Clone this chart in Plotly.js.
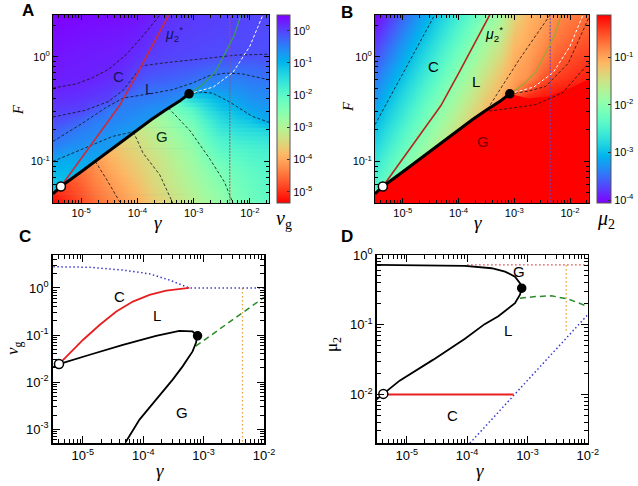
<!DOCTYPE html>
<html><head><meta charset="utf-8">
<script src="https://cdn.plot.ly/plotly-3.0.1.min.js"></script>
<style>html,body{margin:0;padding:0;background:#fff}#chart{width:638px;height:486px}</style>
</head><body><div id="chart"></div>
<script>
// ================= DATA =================
// heatmap grid (panels A, B)
const gammaGrid = [3.16e-6, 5.62e-6, 1.0e-5, 1.78e-5, 3.16e-5, 5.62e-5, 1.0e-4, 1.78e-4, 3.16e-4, 5.62e-4, 1.0e-3, 1.78e-3, 3.16e-3, 5.62e-3, 1.0e-2, 1.78e-2, 3.16e-2];
const fGrid = [0.0398, 0.0501, 0.0631, 0.0794, 0.1, 0.126, 0.158, 0.2, 0.251, 0.316, 0.398, 0.501, 0.631, 0.794, 1.0, 1.26, 1.58, 2.0, 2.51];
// log10(nu_g) above the G boundary (C / L phases), rows = fGrid, cols = gammaGrid
const logNuUpper = [
 [-1.2,-1.15,-1.05,-0.95,-0.88,-0.85,-0.82,-0.8,-0.78,-0.8,-3.1,-2.85,-2.65,-2.42,-2.25,-2.12,-2.05],
 [-1.18,-1.12,-1.02,-0.93,-0.86,-0.83,-0.8,-0.79,-0.77,-0.79,-3.0,-2.76,-2.56,-2.36,-2.2,-2.08,-2.02],
 [-1.15,-1.08,-0.99,-0.91,-0.84,-0.81,-0.79,-0.78,-0.76,-0.78,-2.9,-2.66,-2.47,-2.3,-2.15,-2.04,-1.98],
 [-1.05,-1.02,-0.95,-0.88,-0.82,-0.79,-0.77,-0.76,-0.75,-0.77,-2.78,-2.56,-2.35,-2.22,-2.08,-1.98,-1.92],
 [-0.85,-0.9,-0.85,-0.84,-0.8,-0.77,-0.76,-0.75,-0.74,-0.76,-2.64,-2.43,-2.2,-2.1,-1.98,-1.9,-1.84],
 [-0.6,-0.7,-0.7,-0.74,-0.78,-0.76,-0.74,-0.73,-0.72,-0.75,-2.5,-2.25,-2.0,-1.95,-1.86,-1.8,-1.75],
 [-0.38,-0.52,-0.58,-0.63,-0.7,-0.75,-0.72,-0.72,-0.71,-0.74,-2.4,-2.1,-1.85,-1.75,-1.68,-1.62,-1.55],
 [-0.21,-0.35,-0.47,-0.54,-0.6,-0.7,-0.72,-0.7,-0.7,-0.72,-2.25,-1.9,-1.6,-1.5,-1.42,-1.35,-1.25],
 [-0.04,-0.12,-0.27,-0.45,-0.51,-0.57,-0.66,-0.69,-0.68,-0.7,-2.05,-1.7,-1.4,-1.25,-1.12,-0.86,-0.8],
 [0.07,0.04,0.02,-0.15,-0.42,-0.49,-0.53,-0.63,-0.65,-0.68,-1.75,-1.4,-1.15,-1.0,-0.8,-0.73,-0.69],
 [0.16,0.14,0.11,0.06,0.02,-0.4,-0.42,-0.46,-0.52,-0.64,-1.25,-1.15,-0.95,-0.78,-0.66,-0.61,-0.58],
 [0.25,0.23,0.2,0.15,0.1,0.02,-0.27,-0.33,-0.36,-0.42,-0.62,-0.68,-0.64,-0.61,-0.54,-0.5,-0.47],
 [0.28,0.26,0.26,0.24,0.18,0.1,-0.09,-0.18,-0.21,-0.26,-0.32,-0.42,-0.47,-0.46,-0.41,-0.38,-0.37],
 [0.31,0.29,0.28,0.26,0.25,0.18,0.04,-0.05,-0.09,-0.13,-0.17,-0.24,-0.29,-0.3,-0.28,-0.26,-0.25],
 [0.35,0.32,0.3,0.28,0.27,0.25,0.13,0.03,0.0,-0.03,-0.05,-0.07,-0.08,-0.1,-0.11,-0.11,-0.11],
 [0.38,0.36,0.33,0.31,0.3,0.28,0.21,0.1,0.04,0.0,-0.02,-0.04,-0.05,-0.06,-0.08,-0.09,-0.09],
 [0.41,0.39,0.37,0.35,0.33,0.31,0.26,0.16,0.08,0.04,0.01,-0.01,-0.03,-0.04,-0.06,-0.07,-0.07],
 [0.45,0.43,0.4,0.38,0.37,0.35,0.31,0.22,0.12,0.07,0.04,0.02,0.0,-0.02,-0.04,-0.05,-0.06],
 [0.48,0.46,0.44,0.42,0.4,0.38,0.35,0.27,0.16,0.1,0.07,0.04,0.02,0.0,-0.02,-0.03,-0.04]
];
// log10(nu_g) in the G phase (below the boundary), rows = fLower, cols = gammaGrid
const fLower = [0.0398, 0.0501, 0.0631, 0.0794, 0.1, 0.126, 0.158, 0.2, 0.251, 0.316, 0.398, 0.501];
const logNuLower = [
 [-5.3,-5.05,-4.8,-4.55,-4.35,-4.15,-3.95,-3.7,-3.5,-3.3,-3.1,-2.85,-2.65,-2.42,-2.25,-2.12,-2.05],
 [-5.1,-4.9,-4.7,-4.45,-4.25,-4.05,-3.85,-3.6,-3.4,-3.2,-3.0,-2.76,-2.56,-2.36,-2.2,-2.08,-2.02],
 [-4.95,-4.8,-4.6,-4.35,-4.15,-3.95,-3.75,-3.5,-3.3,-3.1,-2.9,-2.66,-2.47,-2.3,-2.15,-2.04,-1.98],
 [-4.8,-4.7,-4.5,-4.28,-4.05,-3.85,-3.65,-3.45,-3.25,-3.05,-2.82,-2.56,-2.35,-2.22,-2.08,-1.98,-1.92],
 [-4.65,-4.55,-4.38,-4.18,-3.95,-3.75,-3.58,-3.4,-3.2,-2.98,-2.74,-2.43,-2.2,-2.1,-1.98,-1.9,-1.84],
 [-4.5,-4.4,-4.25,-4.05,-3.85,-3.65,-3.48,-3.3,-3.1,-2.88,-2.65,-2.3,-2.02,-1.95,-1.86,-1.8,-1.75],
 [-4.35,-4.25,-4.1,-3.92,-3.74,-3.56,-3.38,-3.2,-3.0,-2.75,-2.5,-2.12,-1.86,-1.75,-1.68,-1.62,-1.55],
 [-4.2,-4.1,-3.95,-3.78,-3.6,-3.44,-3.27,-3.1,-2.88,-2.62,-2.4,-1.95,-1.62,-1.5,-1.42,-1.35,-1.25],
 [-4.05,-3.95,-3.8,-3.64,-3.46,-3.3,-3.12,-2.95,-2.72,-2.45,-2.2,-1.75,-1.42,-1.25,-1.12,-0.86,-0.8],
 [-3.9,-3.8,-3.65,-3.5,-3.32,-3.16,-2.98,-2.78,-2.55,-2.2,-1.9,-1.45,-1.15,-1.0,-0.8,-0.73,-0.69],
 [-3.75,-3.65,-3.5,-3.35,-3.18,-3.0,-2.82,-2.62,-2.35,-1.85,-1.35,-1.15,-0.95,-0.78,-0.66,-0.61,-0.58],
 [-3.6,-3.5,-3.35,-3.2,-3.02,-2.86,-2.66,-2.45,-2.15,-1.5,-0.7,-0.68,-0.64,-0.61,-0.54,-0.5,-0.47]
];
// log10(mu_2), rows = fGrid, cols = gammaGrid
const logMu2 = [
 [-2.25,-2.0,-1.75,-1.5,-1.25,-1.08,-0.93,-0.78,-0.63,-0.48,-0.15,-0.12,-0.12,-0.12,-0.12,-0.12,-0.12],
 [-2.35,-2.1,-1.85,-1.6,-1.35,-1.14,-0.99,-0.84,-0.69,-0.54,-0.15,-0.12,-0.12,-0.12,-0.12,-0.12,-0.12],
 [-2.45,-2.2,-1.95,-1.7,-1.45,-1.2,-1.05,-0.9,-0.75,-0.6,-0.15,-0.12,-0.12,-0.12,-0.12,-0.12,-0.12],
 [-2.55,-2.3,-2.05,-1.8,-1.55,-1.3,-1.11,-0.96,-0.81,-0.66,-0.15,-0.12,-0.12,-0.12,-0.12,-0.12,-0.12],
 [-2.65,-2.4,-2.15,-1.9,-1.65,-1.4,-1.17,-1.02,-0.87,-0.72,-0.15,-0.12,-0.12,-0.12,-0.12,-0.12,-0.12],
 [-2.75,-2.5,-2.25,-2.0,-1.75,-1.5,-1.25,-1.08,-0.93,-0.78,-0.15,-0.12,-0.12,-0.12,-0.12,-0.12,-0.12],
 [-2.85,-2.6,-2.35,-2.1,-1.85,-1.6,-1.35,-1.14,-0.99,-0.84,-0.15,-0.12,-0.12,-0.12,-0.12,-0.12,-0.12],
 [-2.95,-2.7,-2.45,-2.2,-1.95,-1.7,-1.45,-1.2,-1.05,-0.9,-0.15,-0.12,-0.12,-0.12,-0.12,-0.12,-0.12],
 [-3.05,-2.8,-2.55,-2.3,-2.05,-1.8,-1.55,-1.3,-1.11,-0.96,-0.15,-0.12,-0.12,-0.12,-0.12,-0.12,-0.12],
 [-3.15,-2.9,-2.65,-2.4,-2.15,-1.9,-1.65,-1.4,-1.17,-1.02,-0.15,-0.15,-0.12,-0.12,-0.12,-0.12,-0.12],
 [-3.25,-3.0,-2.75,-2.5,-2.25,-2.0,-1.75,-1.5,-1.25,-1.08,-0.4,-0.25,-0.2,-0.18,-0.16,-0.14,-0.12],
 [-3.35,-3.1,-2.85,-2.6,-2.35,-2.1,-1.85,-1.6,-1.35,-1.14,-0.9,-0.55,-0.35,-0.28,-0.24,-0.2,-0.17],
 [-3.45,-3.2,-2.95,-2.7,-2.45,-2.2,-1.95,-1.7,-1.45,-1.2,-0.98,-0.85,-0.55,-0.42,-0.34,-0.28,-0.24],
 [-3.55,-3.3,-3.05,-2.8,-2.55,-2.3,-2.05,-1.8,-1.55,-1.3,-1.02,-0.92,-0.68,-0.52,-0.43,-0.36,-0.31],
 [-3.65,-3.4,-3.15,-2.9,-2.65,-2.4,-2.15,-1.9,-1.65,-1.4,-1.07,-0.96,-0.78,-0.6,-0.5,-0.43,-0.38],
 [-3.75,-3.5,-3.25,-3.0,-2.75,-2.5,-2.25,-2.0,-1.75,-1.5,-1.13,-1.0,-0.85,-0.68,-0.57,-0.5,-0.45],
 [-3.85,-3.6,-3.35,-3.1,-2.85,-2.6,-2.35,-2.1,-1.85,-1.6,-1.2,-1.04,-0.9,-0.75,-0.64,-0.57,-0.51],
 [-3.95,-3.7,-3.45,-3.2,-2.95,-2.7,-2.45,-2.2,-1.95,-1.7,-1.28,-1.08,-0.95,-0.8,-0.7,-0.63,-0.57],
 [-4.05,-3.8,-3.55,-3.3,-3.05,-2.8,-2.55,-2.3,-2.05,-1.8,-1.35,-1.12,-1.0,-0.85,-0.75,-0.68,-0.62]
];
// G boundary (thick black) in A and B
const bndGamma = [3.16e-6, 4.37e-6, 1.0e-5, 1.78e-5, 3.16e-5, 5.62e-5, 1.0e-4, 1.78e-4, 3.16e-4, 5.62e-4, 8.3e-4];
const bndF     = [0.049, 0.0575, 0.0794, 0.1, 0.126, 0.158, 0.2, 0.251, 0.309, 0.376, 0.442];
// saturated-red part of B continues right of the critical point
const gRightGamma = [1.78e-3, 3.98e-3, 1.0e-2, 2.51e-2];
const gRightF     = [0.398, 0.417, 0.501, 0.631];
// mu2* line
const muStarGamma = [4.37e-6, 1.0e-5, 2.24e-5, 4.79e-5, 1.0e-4, 1.91e-4, 3.63e-4];
const muStarF     = [0.0575, 0.107, 0.195, 0.339, 0.692, 1.318, 2.512];
// green and white curves from the critical point
const greenGamma = [8.32e-4, 1.41e-3, 2.40e-3, 3.80e-3, 5.25e-3, 6.92e-3];
const greenF     = [0.442, 0.537, 0.708, 1.122, 1.585, 2.50];
const whiteGamma = [8.32e-4, 2.24e-3, 5.01e-3, 1.0e-2, 1.70e-2];
const whiteF     = [0.442, 0.513, 0.708, 1.259, 2.50];
const vGamma = 4.4e-3;
const openPt = [4.37e-6, 0.0575];
const critPt = [8.3e-4, 0.442];
// contour lines of panel A
const cA1g = [3.16e-6, 8.32e-6, 1.62e-5, 3.09e-5, 6.31e-5, 1.26e-4, 2.51e-4];
const cA1f = [0.501, 0.550, 0.631, 0.759, 1.047, 1.585, 2.50];
const cA2g = [3.16e-6, 1.17e-5, 3.07e-5, 5.69e-5, 8.57e-5, 1.21e-4, 2.74e-4, 1.42e-3, 5.55e-3, 2.19e-2];
const cA2f = [0.265, 0.307, 0.373, 0.483, 0.646, 0.817, 0.867, 0.953, 1.033, 1.057];
const cA3g = [3.16e-6, 1.08e-5, 2.67e-5, 5.60e-5, 1.59e-4, 4.13e-4, 9.37e-4, 1.86e-3, 3.68e-3, 7.31e-3, 2.19e-2];
const cA3f = [0.155, 0.233, 0.323, 0.403, 0.440, 0.483, 0.558, 0.656, 0.697, 0.685, 0.601];
const cA4g = [3.16e-6, 7.08e-6, 1.62e-5, 3.63e-5, 8.91e-5];
const cA4f = [0.1, 0.120, 0.145, 0.173, 0.193];
const cA5g = [8.32e-4, 1.32e-3, 2.14e-3, 4.23e-3, 1.10e-2, 2.19e-2];
const cA5f = [0.442, 0.459, 0.449, 0.373, 0.269, 0.236];
const cG1g = [1.78e-5, 2.82e-5, 5.01e-5];
const cG1f = [0.1, 0.0676, 0.0398];
const cG2g = [8.51e-5, 1.26e-4, 2.51e-4, 4.27e-4];
const cG2f = [0.191, 0.120, 0.0741, 0.0398];
const cG3g = [3.55e-4, 8.71e-4, 1.95e-3, 3.55e-3, 5.01e-3];
const cG3f = [0.324, 0.195, 0.105, 0.0631, 0.0398];
// contour lines of panel B
const cB1g = [3.16e-6, 1.0e-5, 3.72e-5];
const cB1f = [0.224, 0.692, 2.50];
const cB2g = [3.31e-4, 1.20e-3, 4.37e-3];
const cB2f = [0.316, 0.923, 2.50];
const cB3g = [8.32e-4, 1.78e-3, 3.63e-3, 9.33e-3, 2.14e-2];
const cB3f = [0.442, 0.468, 0.519, 0.867, 2.32];
const cB4g = [3.55e-4, 6.31e-4, 1.26e-3, 2.40e-3, 7.24e-3, 2.19e-2];
const cB4f = [0.302, 0.313, 0.331, 0.348, 0.449, 0.871];
// panel C (nu_g vs gamma)
const cBlueG = [3.24e-6, 1.29e-5, 4.57e-5, 1.26e-4, 2.69e-4, 4.47e-4, 5.75e-4, 1.0e-2];
const cBlueV = [2.82, 2.75, 2.40, 2.0, 1.48, 1.15, 1.0, 1.0];
const cRedG = [4.02e-6, 1.01e-5, 1.91e-5, 3.58e-5, 6.73e-5, 1.27e-4, 2.39e-4, 5.78e-4];
const cRedV = [0.0242, 0.0794, 0.165, 0.315, 0.514, 0.713, 0.879, 1.0];
const cBlackG = [3.24e-6, 4.02e-6, 1.30e-5, 4.60e-5, 1.63e-4, 3.95e-4, 6.56e-4, 7.93e-4, 7.45e-4, 6.56e-4, 4.49e-4, 3.07e-4, 1.63e-4, 8.67e-5, 5.10e-5];
const cBlackV = [0.0209, 0.0242, 0.0381, 0.0621, 0.0964, 0.123, 0.119, 0.0964, 0.0675, 0.0449, 0.0216, 0.0113, 0.00425, 0.0016, 0.000528];
const cGreenG = [7.4e-4, 1.0e-2];
const cGreenV = [0.058, 0.63];
const cOrangeV = [1.0, 5.0e-4];
const cOpen = [4.02e-6, 0.0242];
const cCrit = [7.93e-4, 0.0964];
// panel D (mu_2 vs gamma)
const dBlackG = [3.16e-6, 9.2e-5, 2.55e-4, 4.25e-4, 6.22e-4, 7.52e-4, 8.04e-4, 7.52e-4, 6.22e-4, 3.29e-4, 1.95e-4, 9.2e-5, 2.75e-5, 7.59e-6, 4.07e-6, 3.16e-6];
const dBlackM = [0.72, 0.697, 0.646, 0.578, 0.49, 0.394, 0.334, 0.269, 0.204, 0.132, 0.102, 0.063, 0.0316, 0.0158, 0.0102, 0.0085];
const dRedG = [4.07e-6, 5.9e-4];
const dRedM = [0.01, 0.01];
const dRedDotG = [1.0e-4, 1.0e-2];
const dRedDotM = [0.72, 0.72];
const dGreenG = [7.52e-4, 1.26e-3, 2.51e-3, 4.79e-3, 1.0e-2];
const dGreenM = [0.24, 0.252, 0.26, 0.233, 0.183];
const dBlueG = [1.11e-4, 1.0e-2];
const dBlueM = [0.002, 0.139];
const dOrangeM = [0.72, 0.08];
const dOpen = [4.07e-6, 0.0102];
const dCrit = [8.04e-4, 0.334];
// tick labels
const gammaTicks = [1e-5, 1e-4, 1e-3, 1e-2];
const gammaTickText = ['10<sup>-5</sup>', '10<sup>-4</sup>', '10<sup>-3</sup>', '10<sup>-2</sup>'];
const fTicks = [0.1, 1];
const fTickText = ['10<sup>-1</sup>', '10<sup>0</sup>'];
const nuTicks = [1e-3, 1e-2, 1e-1, 1];
const nuTickText = ['10<sup>-3</sup>', '10<sup>-2</sup>', '10<sup>-1</sup>', '10<sup>0</sup>'];
const muTicks = [1e-2, 1e-1, 1];
const muTickText = ['10<sup>-2</sup>', '10<sup>-1</sup>', '10<sup>0</sup>'];
const cbNuVals = [-5, -4, -3, -2, -1, 0];
const cbNuText = ['10<sup>-5</sup>', '10<sup>-4</sup>', '10<sup>-3</sup>', '10<sup>-2</sup>', '10<sup>-1</sup>', '10<sup>0</sup>'];
const cbMuVals = [-4, -3, -2, -1];
const cbMuText = ['10<sup>-4</sup>', '10<sup>-3</sup>', '10<sup>-2</sup>', '10<sup>-1</sup>'];

// ================= STYLE =================
const W = 638, H = 486;
const RAINBOW = ['#8000ff','#6628fe','#4d4ffc','#3374f8','#1a96f3','#00b4ec','#1acee3','#33e3da','#4df3ce','#66fcc2','#80ffb4','#99fca6','#b3f396','#cce385','#e6ce74','#ffb462','#ff964f','#ff743b','#ff4f28','#ff2814','#ff0000'];
const scaleUp = RAINBOW.map((c, i) => [i / 20, c]);
const scaleDown = RAINBOW.slice().reverse().map((c, i) => [i / 20, c]);
const NU_MIN = -5.35, NU_MAX = 0.49;
const SANS = 'Liberation Sans, Arial, sans-serif';
const SERIF = 'Liberation Serif, Times New Roman, serif';
const px = p => p / W, py = p => 1 - p / H;
const L10 = Math.log10;

function line(x, y, xa, ya, color, width, dash) {
  return {type: 'scatter', mode: 'lines', x, y, xaxis: xa, yaxis: ya, hoverinfo: 'skip',
    line: {color, width, dash: dash || 'solid'}, showlegend: false};
}
function pt(p, xa, ya, open, size) {
  return {type: 'scatter', mode: 'markers', x: [p[0]], y: [p[1]], xaxis: xa, yaxis: ya, hoverinfo: 'skip', showlegend: false,
    marker: {size, color: open ? '#ffffff' : '#000000', line: {color: '#000', width: 1.5}}};
}
function hex2rgb(h) { return [parseInt(h.substr(1, 2), 16), parseInt(h.substr(3, 2), 16), parseInt(h.substr(5, 2), 16)]; }
const RGB_DOWN = RAINBOW.slice().reverse().map(hex2rgb);
function nuColor(v) {
  let t = (v - NU_MIN) / (NU_MAX - NU_MIN); t = Math.max(0, Math.min(1, t));
  const s = t * 20, i = Math.min(19, Math.floor(s)), f = s - i;
  const a = RGB_DOWN[i], b = RGB_DOWN[i + 1];
  const h = k => ('0' + Math.round(a[k] + f * (b[k] - a[k])).toString(16)).slice(-2);
  return '#' + h(0) + h(1) + h(2);
}
const CDASH = '3px,2px';
const DOTS = '1.5px,2.5px';
const traces = [];

// ----- Panel A -----
traces.push({type: 'heatmap', x: gammaGrid, y: fGrid, z: logNuUpper, xaxis: 'x', yaxis: 'y', zsmooth: 'best',
  zmin: NU_MIN, zmax: NU_MAX, colorscale: scaleDown, hoverinfo: 'skip',
  colorbar: {x: px(277), xanchor: 'left', y: py(109), yanchor: 'middle', len: 188, lenmode: 'pixels',
    thickness: 13, thicknessmode: 'pixels', xpad: 0, ypad: 0, outlinewidth: 1, outlinecolor: '#555',
    tickmode: 'array', tickvals: cbNuVals, ticktext: cbNuText, ticks: 'inside', ticklen: 3, tickcolor: '#333',
    tickfont: {family: SANS, size: 11, color: '#000'}}});
// G phase of A: horizontal strips clipped at the G boundary, shaded along gamma from logNuLower
(function () {
  const XL = -5.5, XR = -1.66;
  const gx = gammaGrid.map(L10), ly = fLower.map(L10);
  const Px = bndGamma.map(L10).concat(cA5g.slice(1).map(L10));
  const Py = bndF.map(L10).concat(cA5f.slice(1).map(L10));
  const Pat = x => {
    if (x <= Px[0]) return Py[0];
    for (let i = 0; i < Px.length - 1; i++)
      if (x <= Px[i + 1]) return Py[i] + (x - Px[i]) / (Px[i + 1] - Px[i]) * (Py[i + 1] - Py[i]);
    return Py[Py.length - 1];
  };
  const cross = y => {
    const out = [];
    for (let i = 0; i < Px.length - 1; i++)
      if ((Py[i] - y) * (Py[i + 1] - y) < 0) out.push(Px[i] + (y - Py[i]) / (Py[i + 1] - Py[i]) * (Px[i + 1] - Px[i]));
    return out;
  };
  const rowAt = yc => {
    let k = 0; while (k < ly.length - 2 && yc > ly[k + 1]) k++;
    const t = Math.max(0, Math.min(1, (yc - ly[k]) / (ly[k + 1] - ly[k])));
    return logNuLower[k].map((v, c) => v + t * (logNuLower[k + 1][c] - v));
  };
  const valAt = (row, x) => {
    let c = 0; while (c < gx.length - 2 && x > gx[c + 1]) c++;
    const t = (x - gx[c]) / (gx[c + 1] - gx[c]);
    return row[c] + t * (row[c + 1] - row[c]);
  };
  const step = 0.04;
  for (let n = 0; n < 27; n++) {
    const y0 = -1.40 + n * step;
    const y1 = y0 + step + 0.006;
    let xs = [XL, XR];
    Px.forEach(x => { if (x > XL && x < XR) xs.push(x); });
    cross(y0).concat(cross(y1)).forEach(x => { if (x > XL && x < XR) xs.push(x); });
    xs.sort((a, b) => a - b);
    const valid = xs.filter(x => Pat(x) >= y0 - 1e-9);
    if (valid.length < 2) continue;
    const xmin = valid[0], xmax = valid[valid.length - 1];
    if (xmax - xmin < 1e-3) continue;
    const top = valid.map(x => [x, Math.min(y1, Pat(x))]);
    const poly = top.concat([[xmax, y0], [xmin, y0]]);
    const row = rowAt(y0 + step / 2);
    const stops = [[0, nuColor(valAt(row, xmin))]];
    gx.forEach((x, c) => { if (x > xmin + 1e-3 && x < xmax - 1e-3) stops.push([(x - xmin) / (xmax - xmin), nuColor(row[c])]); });
    stops.push([1, nuColor(valAt(row, xmax))]);
    traces.push({type: 'scatter', mode: 'lines', xaxis: 'x', yaxis: 'y', hoverinfo: 'skip', showlegend: false,
      x: poly.map(p => Math.pow(10, p[0])), y: poly.map(p => Math.pow(10, p[1])),
      fill: 'toself', fillgradient: {type: 'horizontal', colorscale: stops},
      line: {width: 0, color: 'rgba(0,0,0,0)'}});
  }
})();
[[cA1g,cA1f],[cA2g,cA2f],[cA3g,cA3f],[cA4g,cA4f],[cA5g,cA5f],[cG1g,cG1f],[cG2g,cG2f],[cG3g,cG3f]].forEach(c =>
  traces.push(line(c[0], c[1], 'x', 'y', '#111', 0.8, CDASH)));
traces.push(line([vGamma, vGamma], [0.03, 3], 'x', 'y', '#b84858', 1, '2px,1px'));
traces.push(line(greenGamma, greenF, 'x', 'y', '#3c9a5e', 1.3));
traces.push(line(whiteGamma, whiteF, 'x', 'y', '#ffffff', 1, '3px,2px'));
traces.push(line(muStarGamma, muStarF, 'x', 'y', '#cc2a3c', 1.6));
traces.push(line(bndGamma, bndF, 'x', 'y', '#000', 3));
traces.push(pt(openPt, 'x', 'y', true, 9));
traces.push(pt(critPt, 'x', 'y', false, 8));

// ----- Panel B -----
traces.push({type: 'heatmap', x: gammaGrid, y: fGrid, z: logMu2, xaxis: 'x2', yaxis: 'y2', zsmooth: 'best',
  zmin: -4.06, zmax: -0.11, colorscale: scaleUp, hoverinfo: 'skip',
  colorbar: {x: px(597), xanchor: 'left', y: py(109), yanchor: 'middle', len: 188, lenmode: 'pixels',
    thickness: 14, thicknessmode: 'pixels', xpad: 0, ypad: 0, outlinewidth: 1, outlinecolor: '#555',
    tickmode: 'array', tickvals: cbMuVals, ticktext: cbMuText, ticks: 'inside', ticklen: 3, tickcolor: '#333',
    tickfont: {family: SANS, size: 11, color: '#000'}}});
const polyG = [2.0e-6].concat(bndGamma, gRightGamma, [2.51e-2, 2.0e-6]);
const polyF = [0.041].concat(bndF, gRightF, [0.03, 0.03]);
traces.push({type: 'scatter', mode: 'lines', x: polyG, y: polyF, xaxis: 'x2', yaxis: 'y2', fill: 'toself',
  fillcolor: '#ff0000', line: {width: 0, color: 'rgba(0,0,0,0)'}, hoverinfo: 'skip', showlegend: false});
[[cB1g,cB1f],[cB2g,cB2f],[cB3g,cB3f],[cB4g,cB4f]].forEach(c =>
  traces.push(line(c[0], c[1], 'x2', 'y2', '#111', 0.8, CDASH)));
traces.push(line([vGamma, vGamma], [0.03, 3], 'x2', 'y2', '#5a48c8', 1, '2px,1.5px'));
traces.push(line(greenGamma, greenF, 'x2', 'y2', '#a8a236', 1.5));
traces.push(line(whiteGamma, whiteF, 'x2', 'y2', '#ffffff', 1, '3px,2px'));
traces.push(line(muStarGamma, muStarF, 'x2', 'y2', '#b4281a', 1.6));
traces.push(line(bndGamma, bndF, 'x2', 'y2', '#000', 3));
traces.push(pt(openPt, 'x2', 'y2', true, 9));
traces.push(pt(critPt, 'x2', 'y2', false, 8));

// ----- Panel C -----
traces.push(line([vGamma, vGamma], cOrangeV, 'x3', 'y3', '#e8a43a', 1.3, DOTS));
traces.push(line(cBlueG, cBlueV, 'x3', 'y3', '#3a3ad0', 1.5, DOTS));
traces.push(line(cGreenG, cGreenV, 'x3', 'y3', '#2a8a2a', 1.5, '6px,4px'));
traces.push(line(cRedG, cRedV, 'x3', 'y3', '#e62020', 1.8));
traces.push(line(cBlackG, cBlackV, 'x3', 'y3', '#000', 1.8));
traces.push(pt(cOpen, 'x3', 'y3', true, 9));
traces.push(pt(cCrit, 'x3', 'y3', false, 8));

// ----- Panel D -----
traces.push(line(dRedDotG, dRedDotM, 'x4', 'y4', '#e04040', 1.3, DOTS));
traces.push(line([vGamma, vGamma], dOrangeM, 'x4', 'y4', '#e8a43a', 1.3, DOTS));
traces.push(line(dBlueG, dBlueM, 'x4', 'y4', '#3a3ad0', 1.5, DOTS));
traces.push(line(dGreenG, dGreenM, 'x4', 'y4', '#2a8a2a', 1.5, '6px,4px'));
traces.push(line(dRedG, dRedM, 'x4', 'y4', '#e62020', 1.8));
traces.push(line(dBlackG, dBlackM, 'x4', 'y4', '#000', 1.8));
traces.push(pt(dOpen, 'x4', 'y4', true, 9));
traces.push(pt(dCrit, 'x4', 'y4', false, 8));

// ================= AXES =================
function logAxis(domain, range, tv, tt, fs, anchor, lw, tl) {
  return {domain, range, type: 'log', tickmode: 'array', tickvals: tv, ticktext: tt,
    ticks: 'inside', ticklen: tl, tickwidth: 1, tickcolor: '#000',
    minor: {ticks: 'inside', ticklen: Math.round(tl * 0.55), dtick: 'D1', tickcolor: '#000', tickwidth: 1},
    showline: true, linecolor: '#000', linewidth: lw, mirror: 'ticks',
    showgrid: false, zeroline: false, anchor, fixedrange: true,
    tickfont: {family: SANS, size: fs, color: '#000'}};
}
const layout = {
  width: W, height: H, autosize: false, margin: {l: 0, r: 0, t: 0, b: 0},
  paper_bgcolor: '#ffffff', plot_bgcolor: '#ffffff', showlegend: false,
  xaxis:  logAxis([px(53), px(269)], [-5.5, -1.66], gammaTicks, gammaTickText, 11, 'y', 1, 5),
  yaxis:  logAxis([py(203), py(15)], [-1.398, 0.398], fTicks, fTickText, 11, 'x', 1, 5),
  xaxis2: logAxis([px(375), px(589)], [-5.5, -1.66], gammaTicks, gammaTickText, 11, 'y2', 1, 5),
  yaxis2: logAxis([py(203), py(15)], [-1.398, 0.398], fTicks, fTickText, 11, 'x2', 1, 5),
  xaxis3: logAxis([px(52.7), px(264)], [-5.5, -2.0], gammaTicks, gammaTickText, 13, 'y3', 1.5, 7),
  yaxis3: logAxis([py(443.3), py(255)], [-3.3, 0.7], nuTicks, nuTickText, 13, 'x3', 1.5, 7),
  xaxis4: logAxis([px(376.7), px(587.7)], [-5.5, -2.0], gammaTicks, gammaTickText, 13, 'y4', 1.5, 7),
  yaxis4: logAxis([py(443.3), py(255)], [-2.7, 0], muTicks, muTickText, 13, 'x4', 1.5, 7),
  annotations: []
};
function ann(text, x, y, size, opts) {
  layout.annotations.push(Object.assign({text, x: px(x), y: py(y), xref: 'paper', yref: 'paper',
    xanchor: 'center', yanchor: 'middle', showarrow: false,
    font: {family: SANS, size, color: '#000'}}, opts || {}));
}
// panel letters
ann('<b>A</b>', 28, 11, 17); ann('<b>B</b>', 347, 12, 17); ann('<b>C</b>', 25, 237, 17); ann('<b>D</b>', 347, 237, 17);
// region labels
ann('C', 118.5, 76.7, 15, {font: {family: SANS, size: 15, color: '#14145a'}});
ann('L', 149, 88.3, 15, {font: {family: SANS, size: 15, color: '#14145a'}});
ann('G', 162.3, 136.7, 15, {font: {family: SANS, size: 15, color: '#0a2a10'}});
ann('<i>μ</i><sub>2</sub><sup>*</sup>', 174, 34, 14, {font: {family: SANS, size: 14, color: '#14145a'}});
ann('C', 433.3, 66.7, 15); ann('L', 476, 81.7, 15);
ann('G', 482.7, 141.7, 15, {font: {family: SANS, size: 15, color: '#7a0000'}});
ann('<i>μ</i><sub>2</sub><sup>*</sup>', 494, 34, 14);
ann('C', 119.3, 296.7, 15); ann('L', 156.7, 315, 15); ann('G', 181.7, 412.3, 15);
ann('G', 519, 271.7, 15); ann('L', 508.3, 330, 15); ann('C', 452.3, 415.7, 15);
// axis titles
const serif = s => ({font: {family: SERIF, size: s, color: '#000'}});
ann('<i>γ</i>', 158.3, 222, 19, serif(19)); ann('<i>γ</i>', 478, 222, 19, serif(19));
ann('<i>γ</i>', 160, 470, 19, serif(19)); ann('<i>γ</i>', 480, 470, 19, serif(19));
ann('<i>F</i>', 18.3, 110, 15, Object.assign({textangle: -90}, serif(15)));
ann('<i>F</i>', 348, 107, 15, Object.assign({textangle: -90}, serif(15)));
ann('<i>ν</i><sub>g</sub>', 14, 348, 17, Object.assign({textangle: -90}, serif(17)));
ann('μ<sub>2</sub>', 333, 345, 17, Object.assign({textangle: -90}, serif(17)));
ann('<i>ν</i><sub>g</sub>', 284, 220, 20, serif(20));
ann('<i>μ</i><sub>2</sub>', 606, 220, 20, serif(20));

Plotly.newPlot('chart', traces, layout, {staticPlot: true, displayModeBar: false});
</script>
</body></html>
